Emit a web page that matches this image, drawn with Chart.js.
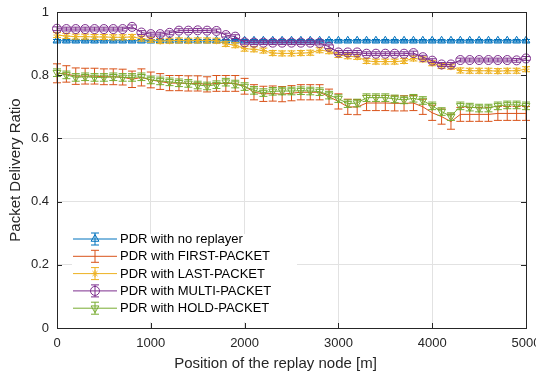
<!DOCTYPE html>
<html><head><meta charset="utf-8">
<script src="https://cdn.jsdelivr.net/npm/chart.js@4.4.1/dist/chart.umd.min.js"></script>
<style>html,body{margin:0;padding:0;background:#fff}canvas{display:block}</style>
</head><body>
<canvas id="c" width="536" height="379"></canvas>
<script>
const positions = [0,100,200,300,400,500,600,700,800,900,1000,1100,1200,1300,1400,1500,1600,1700,1800,1900,2000,2100,2200,2300,2400,2500,2600,2700,2800,2900,3000,3100,3200,3300,3400,3500,3600,3700,3800,3900,4000,4100,4200,4300,4400,4500,4600,4700,4800,4900,5000];
const xTicks = [0,1000,2000,3000,4000,5000];
const yTicks = [0,0.2,0.4,0.6,0.8,1];
const xTickLabels = ['0','1000','2000','3000','4000','5000'];
const yTickLabels = ['0','0.2','0.4','0.6','0.8','1'];
const seriesNames = ['PDR with no replayer','PDR with FIRST-PACKET','PDR with LAST-PACKET','PDR with MULTI-PACKET','PDR with HOLD-PACKET'];

const noReplayer = [0.909,0.909,0.909,0.909,0.909,0.909,0.909,0.909,0.909,0.909,0.909,0.909,0.909,0.909,0.909,0.909,0.909,0.909,0.909,0.909,0.909,0.909,0.909,0.909,0.909,0.909,0.909,0.909,0.909,0.909,0.909,0.909,0.909,0.909,0.909,0.909,0.909,0.909,0.909,0.909,0.909,0.909,0.909,0.909,0.909,0.909,0.909,0.909,0.909,0.909,0.909];
const noReplayerErr = [0.004,0.004,0.004,0.004,0.004,0.004,0.004,0.004,0.004,0.004,0.004,0.004,0.004,0.004,0.004,0.004,0.004,0.004,0.004,0.004,0.004,0.004,0.004,0.004,0.004,0.004,0.004,0.004,0.004,0.004,0.004,0.004,0.004,0.004,0.004,0.004,0.004,0.004,0.004,0.004,0.004,0.004,0.004,0.004,0.004,0.004,0.004,0.004,0.004,0.004,0.004];

const firstPacket = [0.806,0.804,0.797,0.797,0.797,0.795,0.795,0.794,0.787,0.793,0.785,0.780,0.775,0.775,0.774,0.774,0.771,0.774,0.774,0.774,0.765,0.746,0.741,0.742,0.740,0.743,0.746,0.746,0.746,0.732,0.717,0.700,0.699,0.712,0.712,0.712,0.711,0.711,0.712,0.700,0.681,0.669,0.653,0.676,0.676,0.676,0.676,0.679,0.679,0.679,0.679];
const firstPacketErr = [0.030,0.026,0.026,0.025,0.025,0.025,0.025,0.025,0.026,0.027,0.025,0.025,0.024,0.024,0.024,0.024,0.024,0.025,0.025,0.025,0.025,0.024,0.024,0.024,0.024,0.024,0.024,0.024,0.024,0.024,0.024,0.024,0.024,0.024,0.024,0.024,0.024,0.024,0.024,0.024,0.024,0.024,0.024,0.022,0.022,0.022,0.022,0.022,0.022,0.022,0.022];

const lastPacket = [0.927,0.924,0.922,0.922,0.921,0.921,0.920,0.920,0.921,0.916,0.912,0.908,0.909,0.910,0.909,0.910,0.910,0.909,0.899,0.895,0.884,0.882,0.878,0.870,0.869,0.869,0.870,0.871,0.879,0.876,0.864,0.860,0.858,0.845,0.843,0.843,0.843,0.845,0.853,0.850,0.838,0.829,0.827,0.815,0.814,0.814,0.814,0.813,0.814,0.814,0.819];
const lastPacketErr = [0.008,0.008,0.008,0.008,0.008,0.008,0.008,0.008,0.008,0.008,0.008,0.008,0.008,0.008,0.008,0.008,0.008,0.008,0.008,0.008,0.008,0.008,0.008,0.008,0.008,0.008,0.008,0.008,0.008,0.008,0.008,0.008,0.008,0.008,0.008,0.008,0.008,0.008,0.008,0.008,0.008,0.008,0.008,0.008,0.008,0.008,0.008,0.008,0.008,0.008,0.008];

const multiPacket = [0.947,0.946,0.946,0.946,0.946,0.946,0.946,0.946,0.953,0.935,0.930,0.930,0.934,0.941,0.941,0.942,0.941,0.940,0.927,0.922,0.904,0.903,0.903,0.903,0.903,0.903,0.903,0.903,0.902,0.890,0.872,0.872,0.872,0.868,0.868,0.868,0.868,0.868,0.870,0.857,0.846,0.834,0.834,0.848,0.848,0.848,0.848,0.848,0.848,0.847,0.853];
const multiPacketErr = [0.006,0.006,0.006,0.006,0.006,0.006,0.006,0.006,0.006,0.006,0.006,0.006,0.006,0.006,0.006,0.006,0.006,0.006,0.006,0.006,0.006,0.006,0.006,0.006,0.006,0.006,0.006,0.006,0.006,0.006,0.006,0.006,0.006,0.006,0.006,0.006,0.006,0.006,0.006,0.006,0.006,0.006,0.006,0.006,0.006,0.006,0.006,0.006,0.006,0.006,0.006];

const holdPacket = [0.808,0.801,0.793,0.795,0.793,0.793,0.795,0.793,0.793,0.795,0.785,0.782,0.779,0.776,0.774,0.769,0.766,0.770,0.778,0.772,0.764,0.752,0.745,0.749,0.750,0.750,0.751,0.750,0.748,0.737,0.726,0.710,0.712,0.729,0.729,0.729,0.725,0.722,0.727,0.720,0.703,0.685,0.669,0.703,0.699,0.696,0.696,0.703,0.706,0.706,0.703];
const holdPacketErr = [0.012,0.012,0.012,0.012,0.012,0.012,0.012,0.012,0.012,0.012,0.012,0.012,0.012,0.012,0.012,0.012,0.012,0.012,0.012,0.012,0.012,0.012,0.012,0.012,0.012,0.012,0.012,0.012,0.012,0.012,0.012,0.012,0.012,0.012,0.012,0.012,0.012,0.012,0.012,0.012,0.012,0.012,0.012,0.012,0.012,0.012,0.012,0.012,0.012,0.012,0.012];

const FONT = '"Liberation Sans", Arial, Helvetica, sans-serif';
const AX = '#262626';

function pts(vals){ return positions.map((x,i)=>({x:x, y:vals[i]})); }
function mk(label, vals, err, color, style, radius, rot, order){
  return {label, data: pts(vals), err, borderColor: color, backgroundColor: 'rgba(0,0,0,0)',
    borderWidth: 1, pointStyle: style, pointRadius: radius, pointRotation: rot,
    pointBorderColor: color, pointBackgroundColor: 'rgba(0,0,0,0)', pointBorderWidth: 1,
    tension: 0, clip: false, order};
}

const datasets = [
  mk(seriesNames[0], noReplayer, noReplayerErr, '#0072BD', 'triangle', 4.5, 0, 5),
  mk(seriesNames[1], firstPacket, firstPacketErr, '#D95319', 'circle', 0, 0, 4),
  mk(seriesNames[2], lastPacket, lastPacketErr, '#EDB120', 'star', 3.5, 0, 3),
  mk(seriesNames[3], multiPacket, multiPacketErr, '#7E2F8E', 'circle', 4.5, 0, 2),
  mk(seriesNames[4], holdPacket, holdPacketErr, '#77AC30', 'triangle', 4.5, 180, 1)
];

function drawErr(ctx, x, y1, y2, cap){
  ctx.beginPath();
  ctx.moveTo(x, y1); ctx.lineTo(x, y2);
  ctx.moveTo(x-cap, y1); ctx.lineTo(x+cap, y1);
  ctx.moveTo(x-cap, y2); ctx.lineTo(x+cap, y2);
  ctx.stroke();
}

const errPlugin = {
  id: 'errbars',
  afterDatasetDraw(chart, args){
    const ds = chart.data.datasets[args.index];
    if (!ds.err) return;
    const xs = chart.scales.x, ys = chart.scales.y, ctx = chart.ctx;
    ctx.save();
    ctx.strokeStyle = ds.borderColor; ctx.lineWidth = 1;
    ds.data.forEach((p,i)=>{
      const x = xs.getPixelForValue(p.x);
      drawErr(ctx, x, ys.getPixelForValue(p.y - ds.err[i]), ys.getPixelForValue(p.y + ds.err[i]), 4);
    });
    ctx.restore();
  }
};

const framePlugin = {
  id: 'frame',
  afterDatasetsDraw(chart){
    const ctx = chart.ctx, a = chart.chartArea;
    const lx = a.left + 16, top = a.bottom - 94;
    ctx.save();
    ctx.fillStyle = '#fff';
    ctx.fillRect(lx - 1, top, 225, 88);
    const rowH = 17.3;
    chart.data.datasets.forEach((ds, i)=>{
      const y = top + 5 + i*rowH;
      ctx.strokeStyle = ds.borderColor; ctx.lineWidth = 1;
      ctx.beginPath(); ctx.moveTo(lx, y); ctx.lineTo(lx + 44, y); ctx.stroke();
      const cx = lx + 22;
      drawErr(ctx, cx, y - 6, y + 6, 4);
      if (ds.pointRadius > 0) {
        ctx.fillStyle = 'rgba(0,0,0,0)';
        Chart.helpers.drawPoint(ctx, {pointStyle: ds.pointStyle, radius: ds.pointRadius, rotation: ds.pointRotation, borderWidth: 1}, cx, y);
      }
      ctx.fillStyle = '#000';
      ctx.font = '13px ' + FONT;
      ctx.textBaseline = 'middle'; ctx.textAlign = 'left';
      ctx.fillText(ds.label, lx + 47, y + 0.5);
    });
    ctx.restore();
  },
  afterDraw(chart){
    const ctx = chart.ctx, a = chart.chartArea;
    const xs = chart.scales.x, ys = chart.scales.y;
    ctx.save();
    ctx.strokeStyle = AX; ctx.lineWidth = 1;
    ctx.strokeRect(Math.round(a.left)+0.5, Math.round(a.top)+0.5, Math.round(a.right-a.left), Math.round(a.bottom-a.top));
    const tl = 5;
    ctx.beginPath();
    xTicks.forEach(v=>{
      const x = Math.round(xs.getPixelForValue(v)) + 0.5;
      ctx.moveTo(x, a.bottom); ctx.lineTo(x, a.bottom - tl);
      ctx.moveTo(x, a.top); ctx.lineTo(x, a.top + tl);
    });
    yTicks.forEach(v=>{
      const y = Math.round(ys.getPixelForValue(v)) + 0.5;
      ctx.moveTo(a.left, y); ctx.lineTo(a.left + tl, y);
      ctx.moveTo(a.right, y); ctx.lineTo(a.right - tl, y);
    });
    ctx.stroke();
    ctx.fillStyle = AX;
    ctx.font = '15px ' + FONT;
    ctx.textAlign = 'center'; ctx.textBaseline = 'middle';
    ctx.fillText('Position of the replay node [m]', (a.left + a.right)/2 - 16, 364);
    ctx.restore();
  }
};

new Chart(document.getElementById('c'), {
  type: 'line',
  data: { datasets },
  plugins: [errPlugin, framePlugin],
  options: {
    responsive: false,
    animation: false,
    devicePixelRatio: 1,
    layout: { padding: { top: 12, right: 10, left: 0, bottom: 0 } },
    plugins: { legend: { display: false }, tooltip: { enabled: false } },
    elements: { line: { borderWidth: 1 } },
    scales: {
      x: {
        type: 'linear', min: 0, max: 5000,
        afterFit(s){ s.height = 51; s.paddingLeft = 0; s.paddingRight = 0; },
        afterBuildTicks(s){ s.ticks = xTicks.map(v=>({value:v})); },
        ticks: { color: AX, font: { family: FONT, size: 13 }, padding: 8, maxRotation: 0, autoSkip: false,
          callback: (v, i) => xTickLabels[i] },
        grid: { color: '#e2e2e2', drawTicks: false },
        border: { display: false },
        title: { display: false }
      },
      y: {
        type: 'linear', min: 0, max: 1,
        afterFit(s){ s.width = 57; s.paddingTop = 0; s.paddingBottom = 0; },
        afterBuildTicks(s){ s.ticks = yTicks.map(v=>({value:v})); },
        ticks: { color: AX, font: { family: FONT, size: 13 }, padding: 8,
          callback: (v, i) => yTickLabels[i] },
        grid: { color: '#e2e2e2', drawTicks: false },
        border: { display: false },
        title: { display: true, text: 'Packet Delivery Ratio', color: AX, font: { family: FONT, size: 15 }, padding: { top: 7, bottom: 0 } }
      }
    }
  }
});
</script>
</body></html>
